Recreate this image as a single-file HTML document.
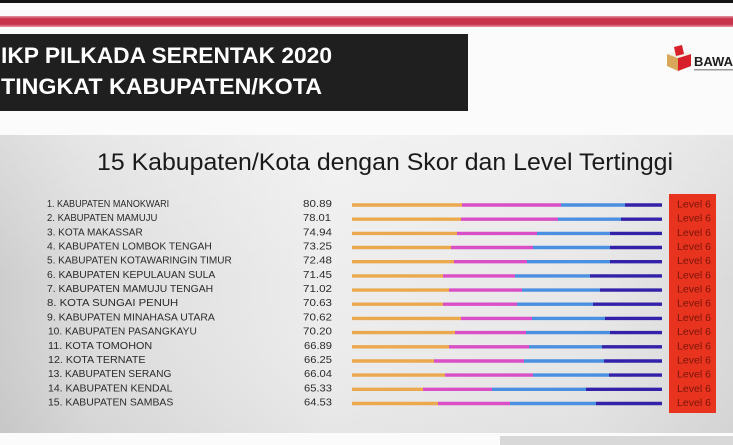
<!DOCTYPE html>
<html>
<head>
<meta charset="utf-8">
<style>
html,body{margin:0;padding:0;background:#fbfbfb;}
svg{display:block;}
</style>
</head>
<body>
<svg width="733" height="445" viewBox="0 0 733 445" xmlns="http://www.w3.org/2000/svg">
<defs>
<linearGradient id="pan" x1="0" y1="0" x2="1" y2="0">
<stop offset="0" stop-color="#cdcdcd"/>
<stop offset="0.12" stop-color="#dcdcdc"/>
<stop offset="0.45" stop-color="#ededed"/>
<stop offset="0.8" stop-color="#e8e8e8"/>
<stop offset="1" stop-color="#dadada"/>
</linearGradient>
<linearGradient id="panv" x1="0" y1="0" x2="0" y2="1">
<stop offset="0" stop-color="#ffffff" stop-opacity="0.3"/>
<stop offset="0.5" stop-color="#ffffff" stop-opacity="0"/>
<stop offset="1" stop-color="#000000" stop-opacity="0.03"/>
</linearGradient>
<linearGradient id="red" x1="0" y1="0" x2="0" y2="1">
<stop offset="0" stop-color="#e79aa8"/>
<stop offset="0.25" stop-color="#c8344c"/>
<stop offset="0.75" stop-color="#c8344c"/>
<stop offset="1" stop-color="#e79aa8"/>
</linearGradient>
</defs>

<rect x="0" y="0" width="733" height="445" fill="#fbfbfb"/>
<rect x="0" y="0" width="733" height="3" fill="#141414"/>
<rect x="0" y="16" width="733" height="11" fill="url(#red)"/>

<rect x="0" y="34" width="468" height="77" fill="#1f1f1f"/>
<text x="1" y="63" font-family="'Liberation Sans', sans-serif" font-weight="bold" font-size="22" fill="#ffffff" textLength="331" lengthAdjust="spacingAndGlyphs">IKP PILKADA SERENTAK 2020</text>
<text x="1" y="94" font-family="'Liberation Sans', sans-serif" font-weight="bold" font-size="22" fill="#ffffff" textLength="321" lengthAdjust="spacingAndGlyphs">TINGKAT KABUPATEN/KOTA</text>

<polygon points="667,54 678,58 678,71 667,66" fill="#d9a75a"/>
<polygon points="678,58 691,54 691,66 678,71" fill="#d8202a"/>
<polygon points="667,54 678,50 691,54 678,58" fill="#f4efe6"/>
<polygon points="674,47 682,45 684,54 676,56" fill="#d8202a"/>
<text x="694" y="66" font-family="'Liberation Sans', sans-serif" font-weight="bold" font-size="13" fill="#1c1c1c">BAWASLU</text>
<rect x="694" y="69" width="39" height="1.5" fill="#9a9a9a"/>

<rect x="0" y="135" width="733" height="298" fill="url(#pan)"/>
<rect x="0" y="135" width="733" height="298" fill="url(#panv)"/>
<rect x="500" y="436" width="233" height="9" fill="#d8d8d8"/>

<text x="97" y="170" font-family="'Liberation Sans', sans-serif" font-size="24" fill="#1a1a1a" textLength="576" lengthAdjust="spacingAndGlyphs">15 Kabupaten/Kota dengan Skor dan Level Tertinggi</text>

<rect x="669" y="194" width="47" height="219" fill="#e8341f"/>

<g font-family="'Liberation Sans', sans-serif" font-size="10.5" fill="#2a2a2a">
<text transform="translate(47,207) scale(0.86,1)">1. KABUPATEN MANOKWARI</text>
<text transform="translate(47,221.2) scale(0.91,1)">2. KABUPATEN MAMUJU</text>
<text transform="translate(47,235.4) scale(0.956,1)">3. KOTA MAKASSAR</text>
<text transform="translate(47,249.5) scale(0.982,1)">4. KABUPATEN LOMBOK TENGAH</text>
<text transform="translate(47,263.7) scale(0.957,1)">5. KABUPATEN KOTAWARINGIN TIMUR</text>
<text transform="translate(47,277.9) scale(0.988,1)">6. KABUPATEN KEPULAUAN SULA</text>
<text transform="translate(47,292.1) scale(0.99,1)">7. KABUPATEN MAMUJU TENGAH</text>
<text transform="translate(47,306.2) scale(1.08,1)">8. KOTA SUNGAI PENUH</text>
<text transform="translate(47,320.4) scale(0.997,1)">9. KABUPATEN MINAHASA UTARA</text>
<text transform="translate(48,334.6) scale(0.972,1)">10. KABUPATEN PASANGKAYU</text>
<text transform="translate(48,348.8) scale(1.03,1)">11. KOTA TOMOHON</text>
<text transform="translate(48,363) scale(1.02,1)">12. KOTA TERNATE</text>
<text transform="translate(48,377.1) scale(0.974,1)">13. KABUPATEN SERANG</text>
<text transform="translate(48,391.3) scale(1.0,1)">14. KABUPATEN KENDAL</text>
<text transform="translate(48,405.5) scale(0.994,1)">15. KABUPATEN SAMBAS</text>
</g>

<g font-family="'Liberation Sans', sans-serif" font-size="10.5" fill="#2a2a2a">
<text x="303" y="207" textLength="29" lengthAdjust="spacingAndGlyphs">80.89</text>
<text x="303" y="221.2" textLength="28" lengthAdjust="spacingAndGlyphs">78.01</text>
<text x="303" y="235.4" textLength="29" lengthAdjust="spacingAndGlyphs">74.94</text>
<text x="303" y="249.5" textLength="29" lengthAdjust="spacingAndGlyphs">73.25</text>
<text x="303" y="263.7" textLength="29" lengthAdjust="spacingAndGlyphs">72.48</text>
<text x="303" y="277.9" textLength="29" lengthAdjust="spacingAndGlyphs">71.45</text>
<text x="303" y="292.1" textLength="29" lengthAdjust="spacingAndGlyphs">71.02</text>
<text x="303" y="306.2" textLength="29" lengthAdjust="spacingAndGlyphs">70.63</text>
<text x="303" y="320.4" textLength="29" lengthAdjust="spacingAndGlyphs">70.62</text>
<text x="303" y="334.6" textLength="29" lengthAdjust="spacingAndGlyphs">70.20</text>
<text x="304" y="348.8" textLength="28" lengthAdjust="spacingAndGlyphs">66.89</text>
<text x="304" y="363" textLength="28" lengthAdjust="spacingAndGlyphs">66.25</text>
<text x="304" y="377.1" textLength="28" lengthAdjust="spacingAndGlyphs">66.04</text>
<text x="304" y="391.3" textLength="28" lengthAdjust="spacingAndGlyphs">65.33</text>
<text x="304" y="405.5" textLength="28" lengthAdjust="spacingAndGlyphs">64.53</text>
</g>

<g font-family="'Liberation Sans', sans-serif" font-size="10.5" fill="#7a1408">
<text x="677" y="207.5" textLength="34" lengthAdjust="spacingAndGlyphs">Level 6</text>
<text x="677" y="221.7" textLength="34" lengthAdjust="spacingAndGlyphs">Level 6</text>
<text x="677" y="235.9" textLength="34" lengthAdjust="spacingAndGlyphs">Level 6</text>
<text x="677" y="250" textLength="34" lengthAdjust="spacingAndGlyphs">Level 6</text>
<text x="677" y="264.2" textLength="34" lengthAdjust="spacingAndGlyphs">Level 6</text>
<text x="677" y="278.4" textLength="34" lengthAdjust="spacingAndGlyphs">Level 6</text>
<text x="677" y="292.6" textLength="34" lengthAdjust="spacingAndGlyphs">Level 6</text>
<text x="677" y="306.7" textLength="34" lengthAdjust="spacingAndGlyphs">Level 6</text>
<text x="677" y="320.9" textLength="34" lengthAdjust="spacingAndGlyphs">Level 6</text>
<text x="677" y="335.1" textLength="34" lengthAdjust="spacingAndGlyphs">Level 6</text>
<text x="677" y="349.3" textLength="34" lengthAdjust="spacingAndGlyphs">Level 6</text>
<text x="677" y="363.5" textLength="34" lengthAdjust="spacingAndGlyphs">Level 6</text>
<text x="677" y="377.6" textLength="34" lengthAdjust="spacingAndGlyphs">Level 6</text>
<text x="677" y="391.8" textLength="34" lengthAdjust="spacingAndGlyphs">Level 6</text>
<text x="677" y="406" textLength="34" lengthAdjust="spacingAndGlyphs">Level 6</text>
</g>

<g stroke-width="3.4">
<line x1="352" y1="205.0" x2="462" y2="205.0" stroke="#eaa94e"/><line x1="462" y1="205.0" x2="561" y2="205.0" stroke="#d94fc6"/><line x1="561" y1="205.0" x2="625" y2="205.0" stroke="#4a8fe0"/><line x1="625" y1="205.0" x2="662" y2="205.0" stroke="#3322a9"/>
<line x1="352" y1="219.2" x2="461" y2="219.2" stroke="#eaa94e"/><line x1="461" y1="219.2" x2="558" y2="219.2" stroke="#d94fc6"/><line x1="558" y1="219.2" x2="621" y2="219.2" stroke="#4a8fe0"/><line x1="621" y1="219.2" x2="662" y2="219.2" stroke="#3322a9"/>
<line x1="352" y1="233.4" x2="457" y2="233.4" stroke="#eaa94e"/><line x1="457" y1="233.4" x2="537" y2="233.4" stroke="#d94fc6"/><line x1="537" y1="233.4" x2="610" y2="233.4" stroke="#4a8fe0"/><line x1="610" y1="233.4" x2="662" y2="233.4" stroke="#3322a9"/>
<line x1="352" y1="247.5" x2="451" y2="247.5" stroke="#eaa94e"/><line x1="451" y1="247.5" x2="533" y2="247.5" stroke="#d94fc6"/><line x1="533" y1="247.5" x2="610" y2="247.5" stroke="#4a8fe0"/><line x1="610" y1="247.5" x2="662" y2="247.5" stroke="#3322a9"/>
<line x1="352" y1="261.7" x2="454" y2="261.7" stroke="#eaa94e"/><line x1="454" y1="261.7" x2="527" y2="261.7" stroke="#d94fc6"/><line x1="527" y1="261.7" x2="610" y2="261.7" stroke="#4a8fe0"/><line x1="610" y1="261.7" x2="662" y2="261.7" stroke="#3322a9"/>
<line x1="352" y1="275.9" x2="443" y2="275.9" stroke="#eaa94e"/><line x1="443" y1="275.9" x2="515" y2="275.9" stroke="#d94fc6"/><line x1="515" y1="275.9" x2="590" y2="275.9" stroke="#4a8fe0"/><line x1="590" y1="275.9" x2="662" y2="275.9" stroke="#3322a9"/>
<line x1="352" y1="290.1" x2="449" y2="290.1" stroke="#eaa94e"/><line x1="449" y1="290.1" x2="522" y2="290.1" stroke="#d94fc6"/><line x1="522" y1="290.1" x2="600" y2="290.1" stroke="#4a8fe0"/><line x1="600" y1="290.1" x2="662" y2="290.1" stroke="#3322a9"/>
<line x1="352" y1="304.2" x2="443" y2="304.2" stroke="#eaa94e"/><line x1="443" y1="304.2" x2="517" y2="304.2" stroke="#d94fc6"/><line x1="517" y1="304.2" x2="593" y2="304.2" stroke="#4a8fe0"/><line x1="593" y1="304.2" x2="662" y2="304.2" stroke="#3322a9"/>
<line x1="352" y1="318.4" x2="461" y2="318.4" stroke="#eaa94e"/><line x1="461" y1="318.4" x2="532" y2="318.4" stroke="#d94fc6"/><line x1="532" y1="318.4" x2="605" y2="318.4" stroke="#4a8fe0"/><line x1="605" y1="318.4" x2="662" y2="318.4" stroke="#3322a9"/>
<line x1="352" y1="332.6" x2="455" y2="332.6" stroke="#eaa94e"/><line x1="455" y1="332.6" x2="526" y2="332.6" stroke="#d94fc6"/><line x1="526" y1="332.6" x2="610" y2="332.6" stroke="#4a8fe0"/><line x1="610" y1="332.6" x2="662" y2="332.6" stroke="#3322a9"/>
<line x1="352" y1="346.8" x2="449" y2="346.8" stroke="#eaa94e"/><line x1="449" y1="346.8" x2="529" y2="346.8" stroke="#d94fc6"/><line x1="529" y1="346.8" x2="602" y2="346.8" stroke="#4a8fe0"/><line x1="602" y1="346.8" x2="662" y2="346.8" stroke="#3322a9"/>
<line x1="352" y1="361.0" x2="434" y2="361.0" stroke="#eaa94e"/><line x1="434" y1="361.0" x2="524" y2="361.0" stroke="#d94fc6"/><line x1="524" y1="361.0" x2="604" y2="361.0" stroke="#4a8fe0"/><line x1="604" y1="361.0" x2="662" y2="361.0" stroke="#3322a9"/>
<line x1="352" y1="375.1" x2="445" y2="375.1" stroke="#eaa94e"/><line x1="445" y1="375.1" x2="533" y2="375.1" stroke="#d94fc6"/><line x1="533" y1="375.1" x2="609" y2="375.1" stroke="#4a8fe0"/><line x1="609" y1="375.1" x2="662" y2="375.1" stroke="#3322a9"/>
<line x1="352" y1="389.3" x2="423" y2="389.3" stroke="#eaa94e"/><line x1="423" y1="389.3" x2="492" y2="389.3" stroke="#d94fc6"/><line x1="492" y1="389.3" x2="586" y2="389.3" stroke="#4a8fe0"/><line x1="586" y1="389.3" x2="662" y2="389.3" stroke="#3322a9"/>
<line x1="352" y1="403.5" x2="438" y2="403.5" stroke="#eaa94e"/><line x1="438" y1="403.5" x2="510" y2="403.5" stroke="#d94fc6"/><line x1="510" y1="403.5" x2="596" y2="403.5" stroke="#4a8fe0"/><line x1="596" y1="403.5" x2="662" y2="403.5" stroke="#3322a9"/>
</g>
</svg>
</body>
</html>
